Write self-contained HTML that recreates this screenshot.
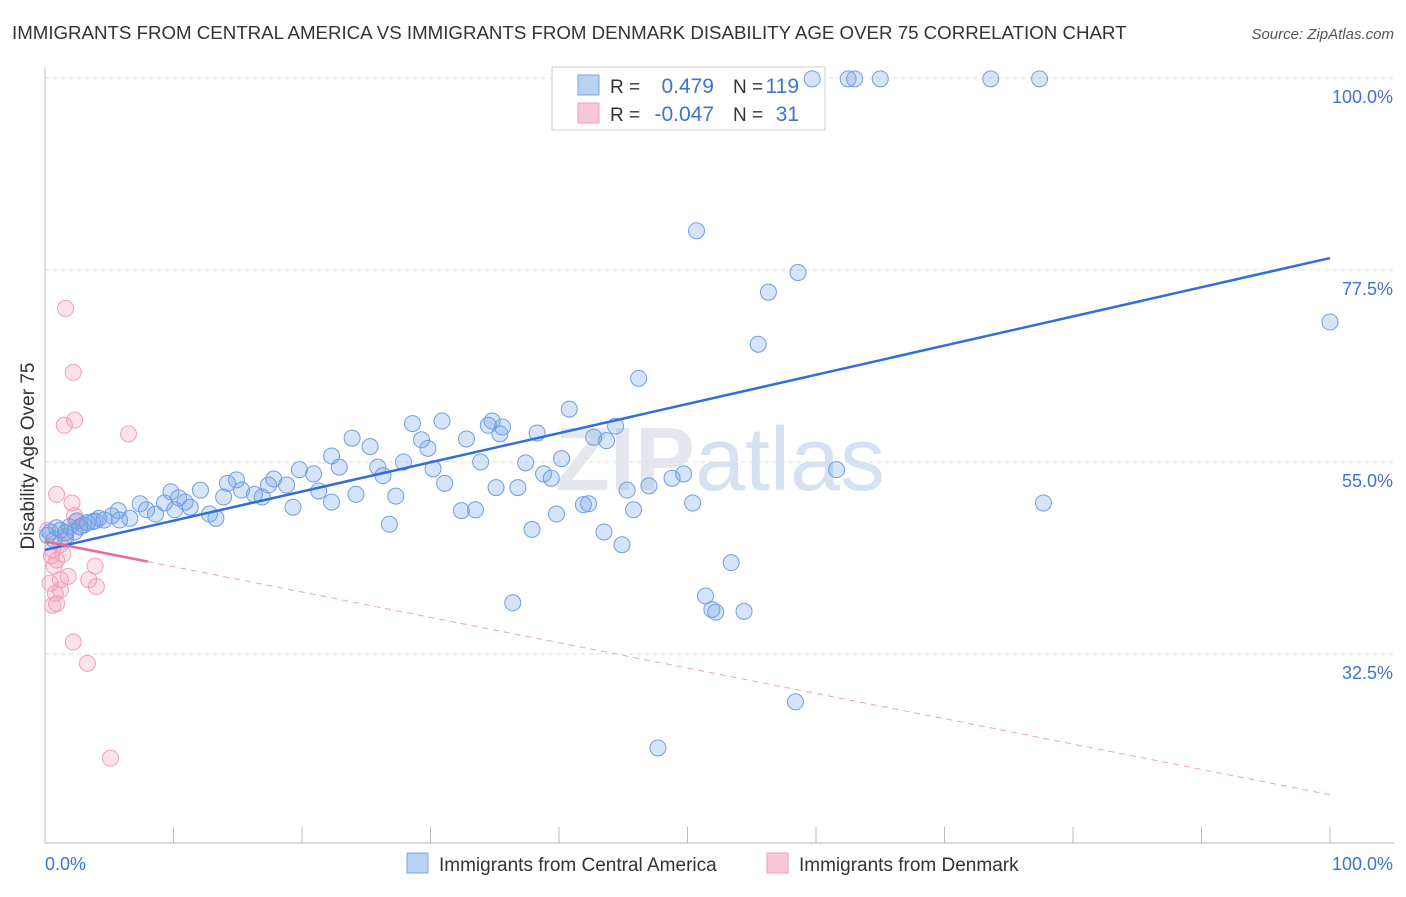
<!DOCTYPE html>
<html><head><meta charset="utf-8"><style>
body{margin:0;background:#fff;font-family:"Liberation Sans",sans-serif;}
svg text{font-family:"Liberation Sans",sans-serif;}
</style></head><body>
<svg id="chart" width="1406" height="892">
<text x="12" y="39" font-size="18.7" fill="#333">IMMIGRANTS FROM CENTRAL AMERICA VS IMMIGRANTS FROM DENMARK DISABILITY AGE OVER 75 CORRELATION CHART</text>
<text x="1394" y="39" font-size="15" fill="#555" font-style="italic" text-anchor="end">Source: ZipAtlas.com</text>
<text x="720" y="490" font-size="90" fill="#e4e8ee" text-anchor="middle" font-weight="bold">ZIP<tspan fill="#d6e2f2" font-weight="normal">atlas</tspan></text>
<g id="grid"></g><g id="axes"></g>
<g>
<rect x="552" y="67" width="273" height="63" fill="#fff" stroke="#ccc"/>
<rect x="578" y="75" width="21" height="20" fill="#b8d2f3" stroke="#7aa6e6"/>
<rect x="578" y="103" width="21" height="20" fill="#f9c8d6" stroke="#ef9fb8"/>
<text x="610" y="93" font-size="19" fill="#333">R = </text><text x="714" y="93" font-size="21" fill="#3d74d1" text-anchor="end">0.479</text>
<text x="733" y="93" font-size="19" fill="#333">N = </text><text x="799" y="93" font-size="21" fill="#3d74d1" text-anchor="end">119</text>
<text x="610" y="121" font-size="19" fill="#333">R = </text><text x="714" y="121" font-size="21" fill="#3d74d1" text-anchor="end">-0.047</text>
<text x="733" y="121" font-size="19" fill="#333">N = </text><text x="799" y="121" font-size="21" fill="#3d74d1" text-anchor="end">31</text>
</g>
<g id="marks"></g>
<text transform="translate(34,456) rotate(-90)" font-size="19" fill="#333" text-anchor="middle">Disability Age Over 75</text>
<g>
<rect x="407" y="853" width="21" height="20" fill="#b8d2f3" stroke="#7aa6e6"/>
<text x="439" y="871" font-size="19" fill="#333">Immigrants from Central America</text>
<rect x="767" y="853" width="21" height="20" fill="#f9c8d6" stroke="#ef9fb8"/>
<text x="799" y="871" font-size="19" fill="#333">Immigrants from Denmark</text>
</g>
</svg>
<script>
const yTicks=[100,77.5,55,32.5];
const yTickLabels=["100.0%","77.5%","55.0%","32.5%"];
const xLabels=["0.0%","100.0%"];
const blueX=[59.7,62.5,63.0,65.0,73.6,77.4,50.7,58.6,56.3,100,55.5,46.2,40.8,30.9,28.6,34.8,34.5,35.6,23.9,29.3,32.8,38.3,42.7,43.7,44.4,25.3,29.8,22.3,27.9,33.9,37.4,40.2,19.8,20.9,22.9,25.9,26.3,30.2,38.8,39.4,49.7,48.8,61.6,17.8,18.8,14.9,14.2,21.3,24.2,27.3,31.1,35.1,36.8,45.3,47.0,41.9,42.3,9.8,12.1,15.3,16.3,16.9,13.9,9.3,10.4,10.9,11.3,7.4,7.9,8.6,5.7,5.2,6.6,4.2,4.6,3.7,2.5,3.0,1.9,1.2,0.4,0.7,1.6,2.3,3.9,12.8,13.3,19.3,22.3,32.4,33.5,39.8,45.8,50.4,77.7,26.8,37.9,43.5,44.9,53.4,51.4,51.9,52.2,54.4,36.4,58.4,47.7,17.4,10.1,5.8,3.3,0.9,0.2,1.6,2.7,35.4];
const blueY=[99.9,99.9,99.9,99.9,99.9,99.9,82.1,77.2,74.9,71.4,68.8,64.8,61.2,59.8,59.5,59.8,59.3,59.1,57.8,57.6,57.7,58.4,57.9,57.5,59.2,56.8,56.6,55.7,55.0,55.0,54.9,55.4,54.1,53.6,54.4,54.4,53.4,54.2,53.6,53.1,53.6,53.1,54.1,53.0,52.3,52.9,52.5,51.6,51.2,51.0,52.5,52.0,52.0,51.7,52.2,50.0,50.1,51.5,51.7,51.7,51.2,50.9,50.9,50.2,50.8,50.3,49.7,50.1,49.4,48.9,49.3,48.7,48.4,48.4,48.2,48.0,48.1,47.6,47.4,47.0,46.8,45.9,46.3,46.8,48.1,48.9,48.4,49.7,50.3,49.3,49.4,48.9,49.4,50.2,50.2,47.7,47.1,46.8,45.3,43.2,39.3,37.7,37.4,37.5,38.5,26.9,21.5,52.3,49.4,48.2,47.9,47.3,46.4,46.7,47.4,58.3];
const pinkX=[1.6,2.2,2.3,1.5,6.5,0.9,2.1,2.3,2.4,2.7,1.6,1.2,0.6,1.4,0.5,0.9,3.9,0.7,1.8,3.4,1.2,0.4,4.0,1.2,0.8,0.6,0.9,2.2,3.3,5.1,0.2];
const pinkY=[73.0,65.5,59.9,59.3,58.3,51.2,50.2,48.7,48.0,47.4,45.9,45.3,44.7,44.2,44.0,43.5,42.8,42.8,41.6,41.2,41.2,40.8,40.4,40.0,39.6,38.2,38.4,33.9,31.4,20.3,47.0];
const blueTrend=[44.7,78.9];
const pinkTrend=[45.7,16.0];
const pinkSolidEnd=8;
const NS="http://www.w3.org/2000/svg";
const X=v=>45+v*12.85;
const Y=v=>78+(100-v)*8.533;
function mk(tag,attrs,parent){const e=document.createElementNS(NS,tag);for(const k in attrs)e.setAttribute(k,attrs[k]);document.getElementById(parent).appendChild(e);return e;}
yTicks.forEach((t,i)=>{
 const g=mk('line',{x1:45,x2:1394,y1:Y(t),y2:Y(t),stroke:'#ddd','stroke-dasharray':'4,4'},'grid');
 
 
 const l=mk('text',{x:1393,y:Y(t)+25,'font-size':18,fill:'#3d74d1','text-anchor':'end'},'axes');
 l.textContent=yTickLabels[i];
 
 
});
const ax=mk('line',{x1:45,x2:45,y1:68,y2:843,stroke:'#bbb'},'axes');


const bx=mk('line',{x1:45,x2:1394,y1:843,y2:843,stroke:'#bbb'},'axes');


for(let i=0;i<=10;i++){const t=mk('line',{x1:X(i*10),x2:X(i*10),y1:827,y2:843,stroke:'#bbb'},'axes');
 
 }
[[0,'start'],[100,'end']].forEach((p,i)=>{const t=mk('text',{x:i?1393:45,y:870,'font-size':18,fill:'#3d74d1','text-anchor':p[1]},'axes');t.textContent=xLabels[i];
 
 });
pinkX.forEach((x,i)=>{const c=mk('circle',{cx:X(x),cy:Y(pinkY[i]),r:8,fill:'rgba(244,160,190,0.3)',stroke:'#efa0ba','stroke-width':1},'marks');
 
 });
blueX.forEach((x,i)=>{const c=mk('circle',{cx:X(x),cy:Y(blueY[i]),r:8,fill:'rgba(120,165,235,0.3)',stroke:'#6f9ee3','stroke-width':1},'marks');
 
 });
const bl=mk('line',{x1:X(0),y1:Y(blueTrend[0]),x2:X(100),y2:Y(blueTrend[1]),stroke:'#2f6fd6','stroke-width':2.5},'marks');


const pAt=x=>pinkTrend[0]+(pinkTrend[1]-pinkTrend[0])*x/100;
const pl=mk('line',{x1:X(0),y1:Y(pinkTrend[0]),x2:X(pinkSolidEnd),y2:Y(pAt(pinkSolidEnd)),stroke:'#e8699a','stroke-width':2.5},'marks');


const pd=mk('line',{x1:X(pinkSolidEnd),y1:Y(pAt(pinkSolidEnd)),x2:X(100),y2:Y(pinkTrend[1]),stroke:'#f0a0bb','stroke-width':1,'stroke-dasharray':'6,5'},'marks');


</script>
</body></html>
